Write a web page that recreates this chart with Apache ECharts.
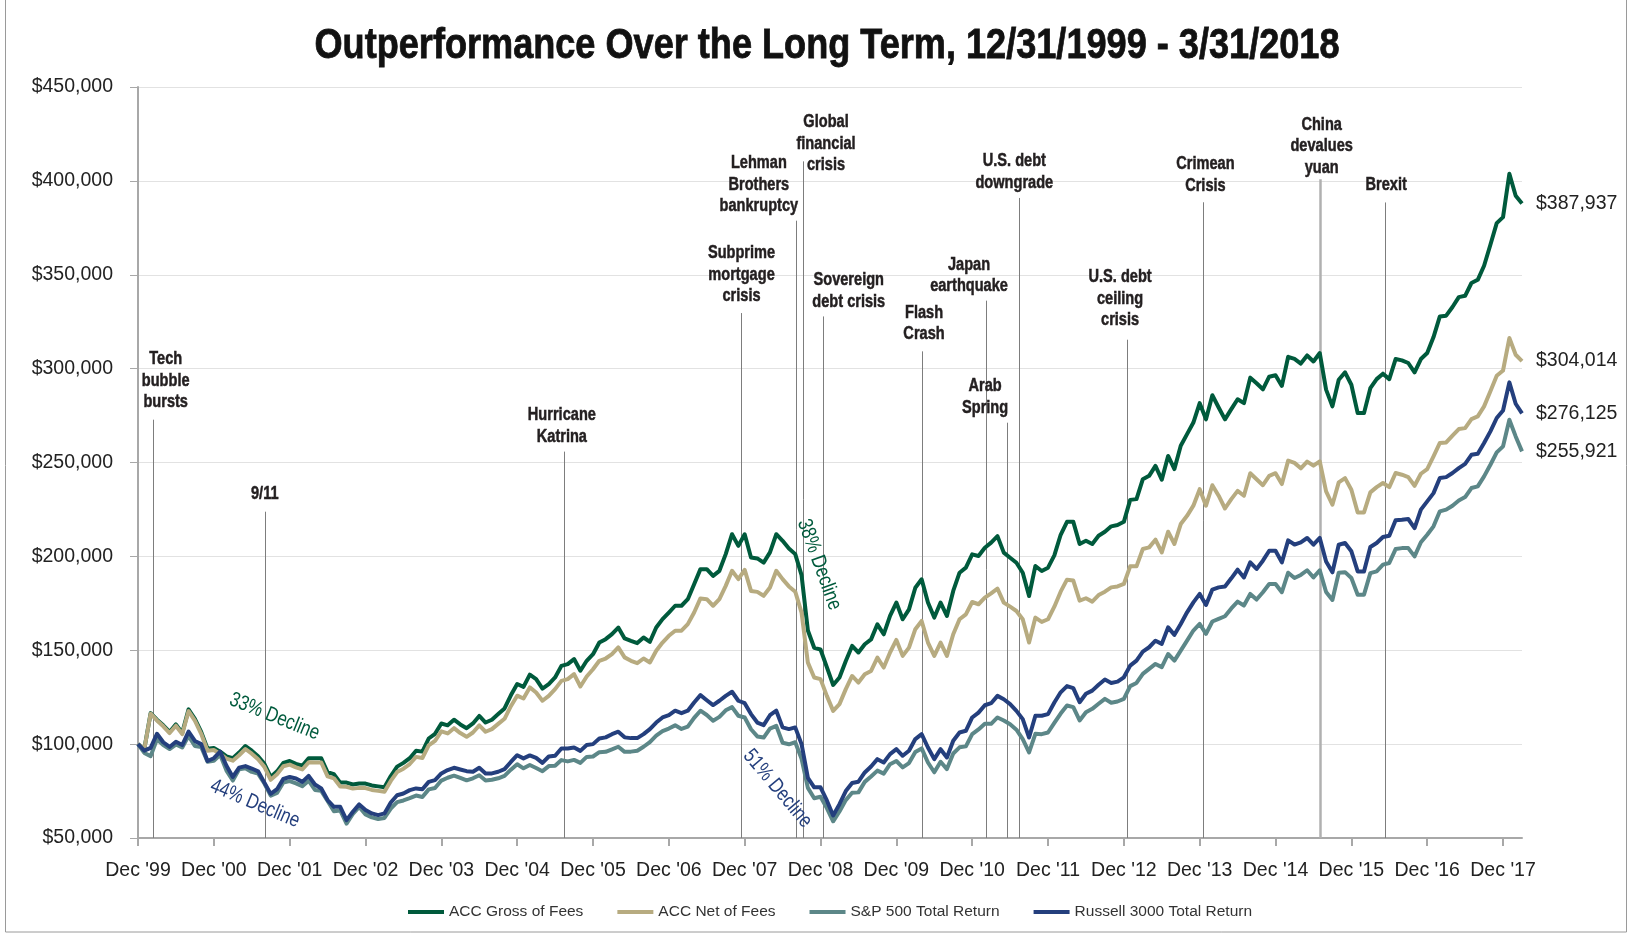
<!DOCTYPE html>
<html><head><meta charset="utf-8">
<script src="https://cdn.jsdelivr.net/npm/echarts@6/dist/echarts.min.js"></script>
<style>html,body{margin:0;padding:0;background:#fff}#c{width:1629px;height:934px}</style>
</head><body><div id="c"></div>
<script>
// Monthly values in $ thousands, Dec 1999 (index 0) .. Mar 2018 (index 219)
const accGross = [100,
97.5,116.5,113,110,106.5,110.5,106,118.5,113.5,106.5,97.5,98,
96,93.5,92.5,95.5,99,96.5,93.5,89.5,82.5,85.5,90,91,
89.5,88.5,92.5,92.5,92.5,85,84,79.5,79.5,78.5,79,79,
78,77.5,77,83,88,90,92.5,96.5,96,103,105.5,111,
110,113,110.5,108.5,111,115,111.5,113,116,119,126,132,
130.5,137,134.6,129.6,132,135.5,141.7,142.6,145.3,139.1,144.4,147.9,
154.1,155.9,158.6,162.1,156.3,155,153.8,156.8,154.5,162.1,166.6,170.1,
173.7,173.7,177.2,185.2,193.2,193.2,189.6,192.3,201.2,211.8,205.6,211.8,
199.4,198.9,196.7,202.1,211.8,208.3,204.2,201.2,190,160.5,151.3,150.4,
141,131.5,135.5,144.3,152.3,148.8,153.2,155.8,163.8,158.5,168.3,175.4,
166.5,171.8,183.3,187.8,175.4,167.4,175.4,168.3,181.6,191.3,194,201.1,
200.2,204.6,207.3,210.8,202,199.3,196.6,191.3,178.9,194.9,192.2,194,
200.5,211.5,218.4,218.4,206.6,208.3,206.6,211,213.1,216,216.7,218.4,
230.1,230.5,241.1,242.9,248.2,240.8,253.5,246.5,258.9,265.1,271.3,281.6,
273,285.8,279.3,273,278.4,283.7,281.6,295.2,292.2,289,295.7,296.5,
290.8,306.3,305.2,302.7,307,303.8,308.3,288.8,279.9,294.1,298,291.4,
276.3,276.3,289.6,294.4,297.3,294.4,305.1,304.4,303,298,305.1,308.3,
316.8,327.8,328.2,332.8,338.1,338.8,345.6,347.3,354.8,366,377.5,380.7,
403.8,392.1,387.937];
const accNet = [100,
97.4,116.2,112.6,109.5,105.9,109.8,105.3,117.6,112.5,105.5,96.5,96.9,
94.8,92.3,91.2,94.1,97.4,94.9,91.9,87.9,81,83.9,88.2,89.1,
87.6,86.5,90.3,90.2,90.2,82.8,81.8,77.4,77.3,76.3,76.7,76.6,
75.6,75.1,74.6,80.4,85.1,86.9,89.4,93.2,92.6,99.3,101.7,106.8,
105.7,108.5,105.9,103.9,106.2,110,106.6,108,110.8,113.5,120.2,125.8,
124.3,130.2,127.5,123.1,125.7,129.3,133.7,134.6,137.3,130.7,136,139.9,
144.4,145.6,147.9,151.5,146.2,144.4,143.1,145.6,143.5,149.7,154.1,157.7,
160.4,160.4,163.9,170.1,177.6,177.2,173.7,177.2,184.3,192.3,187.9,192.8,
181.6,181.1,179,183.4,192.3,187.9,184,181.2,170,143.4,135.5,134.6,
125.7,117.7,121.3,129.3,136.3,132.8,137.2,139,146.1,140.8,148.8,155.5,
147,151.4,161.2,165.6,154.1,147,154.1,147,158.5,166.5,169.1,175.7,
174.5,178,180.3,182.8,175.4,173.2,170.9,166.5,154.1,167.4,165.1,166.5,
173.2,181.2,187.6,187.1,176.4,177.7,175.9,179.4,181.2,183.5,184,185.3,
194.7,194.7,203.9,204.8,208.9,202.1,213.1,206.6,217.2,221.6,227,235.8,
227,237.9,232.3,225.5,230.5,234.9,232.3,244.3,241.1,237.9,242.9,244.3,
238.5,251,249.8,246.9,250.5,248.3,250.6,234.6,227.5,239.4,241.7,235.5,
223.4,223.4,234.1,236.9,239.1,236.9,244.4,243.5,242.2,237.6,244,246.5,
253.3,260.4,260.7,264.3,267.8,268.3,273.1,274.6,279.9,287.9,296.2,299,
316.3,307.4,304.014];
const sp500 = [100,
95.3,93.6,102.6,99.5,97.4,99.8,98.2,104.4,99,98.5,90.6,91.1,
94.3,85.9,80.6,86.6,87.2,85.2,84.3,79,72.6,74,79.6,80.3,
79.1,77.6,80.5,75.6,75.1,69.7,64.3,64.7,57.7,62.8,66.5,62.6,
61,60.1,60.7,65.7,69.1,70,71.2,72.6,71.8,75.9,76.6,80.6,
82.1,83.2,82,80.7,81.8,83.4,80.6,81,81.8,83.1,86.4,89.3,
87.1,88.9,87.3,85.6,88.3,88.5,91.5,90.8,91.6,90,93.2,93.4,
95.7,95.9,97.2,98.6,95.9,96,96.5,98.6,101.1,104.5,106.9,108.3,
110,108.1,109.3,114,117.8,115.5,112.5,114.5,118,119.7,115.1,114.2,
107.9,104.1,103.5,108.3,109.7,100.7,99.9,101,92.2,76.7,71.2,72,
65.9,58.9,64.1,70.2,74.1,74.3,79.9,82.8,85.9,84.3,89.3,91,
87.6,89.9,95.8,97.7,90.2,85,90.6,86.7,95,98.3,98.8,105.3,
107.8,110.8,110.8,114.2,112.6,110.6,107.7,102.7,95.6,105.5,105.3,106.2,
111.3,116.3,120.6,119.7,112.6,117,118.8,121.5,124.1,122,122.7,124.1,
130.9,132.6,137.4,140.1,142.7,141,148,144.5,149.8,155.1,160.5,164,
158.7,165.3,166.7,168.1,172.3,175.9,173.8,180,177,180.9,185.3,185.3,
180.9,191.3,188.5,190.1,192.6,188.8,192.6,181,176.8,191.3,191.6,188.5,
179.6,179.6,191.1,192,195.6,196.5,203.9,204.4,204.4,200,207.5,211.5,
216,224,224.9,227,229.8,231.6,236.4,237.3,242.6,248.8,255.4,258.6,
272.8,263.9,255.921];
const russell3000 = [100,
96.5,98,105.5,101,98.5,101.3,99.5,106.7,101.7,100,91,92.5,
96,88.5,82.5,87.5,88.3,87,85.5,79.5,73.5,76,81.5,82.5,
81.7,79.9,83.1,78.5,76.4,70.2,66.6,66.6,59.5,64,67.9,64.9,
63.1,62.2,63.1,68.9,72.8,73.7,75.5,76.4,76,79.9,80.8,84.4,
86.2,87.4,86.5,85.6,85.3,87.4,84.4,84.4,85.3,86.7,90.5,94.1,
92.4,94,92.7,90,93.4,93.8,97.7,97.7,98.2,96.4,99.5,100,
103,103.6,105.3,106.6,103.6,103.2,103.2,105.3,108,111.5,114.2,115.4,
117.8,116.5,117.8,122.2,126.1,123.4,120.8,123.1,125.7,127.9,123.1,121.8,
116,111.5,110.1,115.4,117.8,108.9,108,108.9,100,82,77,77,
70,62,68,75,79.3,80,84.9,88.1,92,90.2,94.7,97.3,
93.8,96.5,102.7,105.3,98.2,92,97.3,92.9,101.8,106.2,107.1,114.2,
116.8,120.7,121.8,125.7,123.9,121.3,117.7,113.3,103.5,115.1,115.1,116,
122.2,127.6,130.9,129.8,122.3,126.8,128.5,131.6,134.4,132.6,133.3,135.6,
141.8,144.5,149.3,151.6,155.1,153.4,162.2,158.2,164,170.2,175.5,180,
174.1,182.3,183.5,184,188.3,192.9,188.8,196.8,193.3,197.7,203,203,
196.8,208.5,206.3,207.5,209.8,206.2,209.8,197.3,191.5,206.2,207.1,202.7,
192,192,205,207.1,210.3,211,219.2,219.5,219.9,215.1,224.9,229.3,
233.7,241.7,242.2,244.4,247,249.3,254.1,254.7,260.4,266.6,273.7,277.7,
292.7,281.3,276.125];

const seriesNames = ['ACC Gross of Fees','ACC Net of Fees','S&P 500 Total Return','Russell 3000 Total Return'];
const xTickLabels = ["Dec '99","Dec '00","Dec '01","Dec '02","Dec '03","Dec '04","Dec '05","Dec '06","Dec '07","Dec '08","Dec '09","Dec '10","Dec '11","Dec '12","Dec '13","Dec '14","Dec '15","Dec '16","Dec '17"];
const titleText = 'Outperformance Over the Long Term, 12/31/1999 - 3/31/2018';

// Events (month index after Dec 1999)
const eventNames = ['Tech\nbubble\nbursts','9/11','Hurricane\nKatrina','Subprime\nmortgage\ncrisis','Lehman\nBrothers\nbankruptcy','Global\nfinancial\ncrisis','Sovereign\ndebt crisis','Flash\nCrash','Japan\nearthquake','Arab\nSpring','U.S. debt\ndowngrade','U.S. debt\nceiling\ncrisis','Crimean\nCrisis','China\ndevalues\nyuan','Brexit'];
const eventMonth = [2.37,20.15,67.5,95.5,104.1,105.2,108.5,124.1,134.3,137.5,139.4,156.6,168.6,187.1,197.3];
// annotation layout (axis coordinates)
const eventLineTop = [272.8,223.8,255.8,329.6,378.8,410.4,327.8,309.2,336.2,271.2,390.9,315.4,388.6,400.8,388.5];
const eventLabelAt = [[4.38,293.4],[20.06,233.1],[67.07,269.3],[95.5,349.9],[98.24,397.9],[108.87,419.8],[112.47,341.4],[124.38,324],[131.5,349.5],[134.04,284.8],[138.67,404.6],[155.4,337.1],[168.9,403],[187.3,418.4],[197.5,397.9]];
const declineText = ['33% Decline','44% Decline','38% Decline','51% Decline'];
const declineAt = [[21.6,114.6],[18.5,68.3],[107.8,195.6],[101.2,76.3]];
const declineRot = [-22,-23,-70,-50];

const C_GREEN='#005a3c', C_TAN='#b7ab80', C_TEAL='#5c8788', C_BLUE='#243f7d';
const REG='"Liberation Sans",Arial,sans-serif';
const fmt = v => '$' + Math.round(v*1000).toLocaleString('en-US');

function lineSeries(name, arr, color, extra){
  return Object.assign({
    name, type:'line', data: arr.map((v,i)=>[i,v]), symbol:'none', z:3,
    lineStyle:{color, width:4, join:'round'}, itemStyle:{color},
    endLabel:{show:true, formatter:p=>fmt(p.value[1]), color:'#222', fontFamily:REG, fontSize:19.5, distance:14},
    animation:false
  }, extra||{});
}

const chart = echarts.init(document.getElementById('c'), null, {renderer:'canvas'});
chart.setOption({
  animation:false,
  backgroundColor:'#fff',
  grid:{left:138, right:107, top:87, bottom:96},
  legend:{data:seriesNames, left:408, top:904, icon:'rect', itemWidth:36, itemHeight:4, itemGap:34, padding:0,
    textStyle:{fontFamily:REG, fontSize:15.5, color:'#333'}},
  xAxis:{type:'value', min:0, max:219, interval:12,
    axisLine:{lineStyle:{color:'#a8a8a8', width:2}},
    axisTick:{length:8, lineStyle:{color:'#a8a8a8', width:2}},
    splitLine:{show:false},
    axisLabel:{formatter:v=>xTickLabels[v/12]||'', fontFamily:REG, fontSize:19.5, color:'#222', margin:23, showMinLabel:true, showMaxLabel:false, hideOverlap:false}},
  yAxis:{type:'value', min:50, max:450, interval:50,
    axisLine:{show:true, lineStyle:{color:'#a8a8a8', width:2}},
    axisTick:{show:true, length:8, lineStyle:{color:'#a8a8a8', width:1}},
    splitLine:{lineStyle:{color:'#e2e2e2', width:1}},
    axisLabel:{formatter:fmt, fontFamily:REG, fontSize:19.5, color:'#222', margin:25}},
  series:[
    lineSeries(seriesNames[0], accGross, C_GREEN, {
      markLine:{symbol:'none', silent:true, z:1, animation:false, label:{show:false},
        lineStyle:{color:'#7d7d7d', width:1, type:'solid'},
        data:eventMonth.map((m,k)=>[{coord:[m,eventLineTop[k]], lineStyle: k===13?{color:'#b0b0b0',width:2.5}:undefined},{coord:[m,50]}])}
    }),
    lineSeries(seriesNames[1], accNet, C_TAN),
    lineSeries(seriesNames[2], sp500, C_TEAL),
    lineSeries(seriesNames[3], russell3000, C_BLUE)
  ]
});

// condensed-looking annotation texts, placed through the chart's own axes
const ctx = document.createElement('canvas').getContext('2d');
function measure(font, text){ ctx.font = font; return Math.max.apply(null, text.split('\n').map(t=>ctx.measureText(t).width)); }
function txt(id, x, y, text, font, fill, scaleX, rot, lh, strokeW){
  const style = {text, font, fill, lineHeight:lh, align:'center', verticalAlign:'middle', textAlign:'center', textVerticalAlign:'middle'};
  if (strokeW) { style.stroke = fill; style.lineWidth = strokeW; }
  return {id, type:'text', x, y, scaleX, scaleY:1, rotation:rot||0, silent:true, z:10, style};
}
const TITLE_FONT='bold 43px "Liberation Sans", Arial, sans-serif';
const EV_FONT='bold 18px "Liberation Sans", Arial, sans-serif';
const DEC_FONT='21px "Liberation Sans", Arial, sans-serif';
const g = [];
g.push({id:'frame', type:'rect', shape:{x:5.5, y:-2, width:1621, height:934}, style:{fill:'none', stroke:'#9a9a9a', lineWidth:1}, silent:true});
g.push(txt('title', 827, 46, titleText, TITLE_FONT, '#111', 1025/measure(TITLE_FONT, titleText), 0, 50, 0.8));
eventNames.forEach((t,k)=>{
  const p = chart.convertToPixel({gridIndex:0}, eventLabelAt[k]);
  g.push(txt('ev'+k, p[0], p[1], t, EV_FONT, '#231f20', 0.81, 0, 21.5, 0.5));
});
declineText.forEach((t,k)=>{
  const p = chart.convertToPixel({gridIndex:0}, declineAt[k]);
  g.push(txt('dec'+k, p[0], p[1], t, DEC_FONT, k%2===0?C_GREEN:C_BLUE, 95/measure(DEC_FONT, t), declineRot[k]*Math.PI/180, 24));
});
chart.setOption({graphic:g});
</script></body></html>
